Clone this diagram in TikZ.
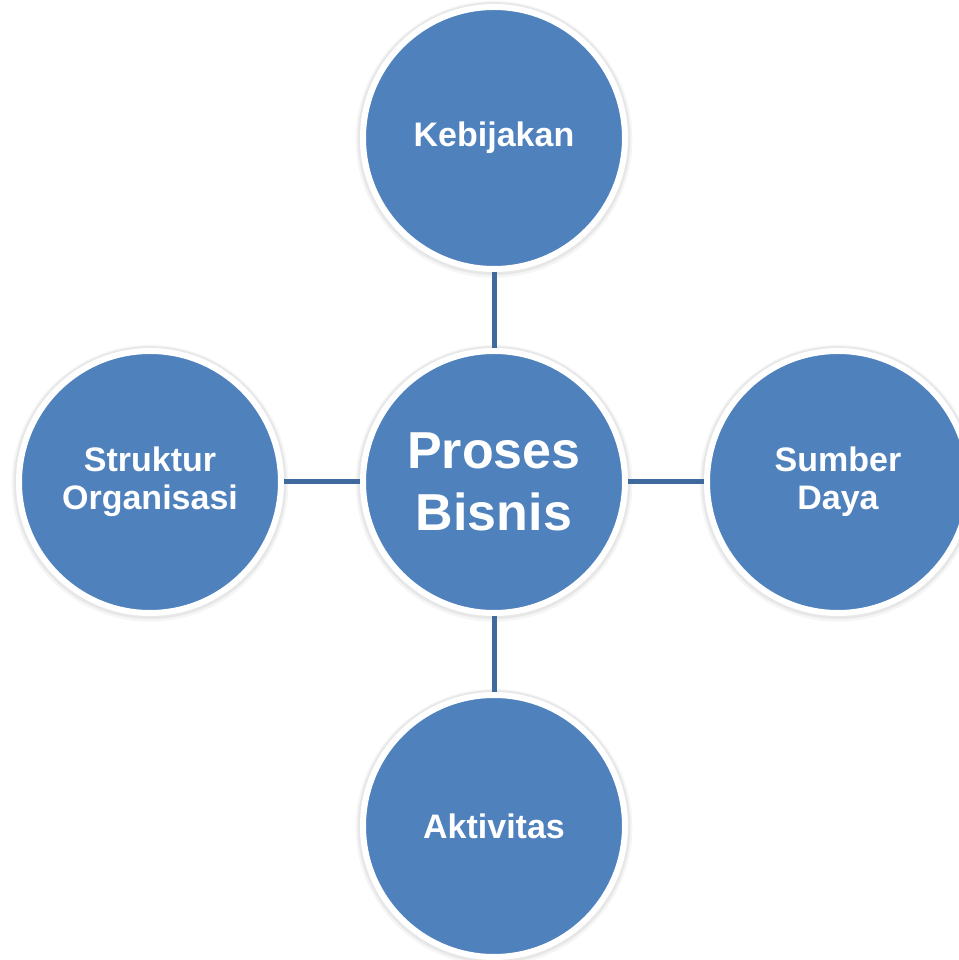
\documentclass[tikz,border=0pt]{standalone}
\usepackage{fontspec}
\setmainfont{Liberation Sans}
\usetikzlibrary{positioning}
\definecolor{bubbleblue}{RGB}{79,129,189}
\definecolor{linkblue}{RGB}{63,106,158}
\tikzset{
        bubble/.style = {circle, fill=bubbleblue, draw=white, line width=4.5pt, minimum size=196.5pt, inner sep=0pt,
            text=white, align=center, font=\bfseries\fontsize{25.5}{28.5}\selectfont,
            preaction={draw=black, draw opacity=0.04, line width=11pt, transform canvas={yshift=-1pt}},
            preaction={draw=black, draw opacity=0.06, line width=8pt, transform canvas={yshift=-0.5pt}}},
        bigtext/.style = {font=\bfseries\fontsize{39}{46.5}\selectfont},
        link/.style = {draw=linkblue, line width=3.75pt},
    }

\begin{document}
\begin{tikzpicture}[node distance=57pt]
    \useasboundingbox (0,0) rectangle (719.25pt,720pt);
    \node [bubble, bigtext] (proses) at (370.5pt,358.5pt) {Proses\\Bisnis};
    \node [bubble, above=of proses] (kebijakan) {Kebijakan};
    \node [bubble, right=of proses] (sumber) {Sumber\\Daya};
    \node [bubble, below=of proses] (aktivitas) {Aktivitas};
    \node [bubble, left=of proses] (struktur) {Struktur\\Organisasi};

    \draw [link] (kebijakan) -- (proses);
    \draw [link] (proses) -- (sumber);
    \draw [link] (proses) -- (aktivitas);
    \draw [link] (struktur) -- (proses);

\end{tikzpicture}
\end{document}
